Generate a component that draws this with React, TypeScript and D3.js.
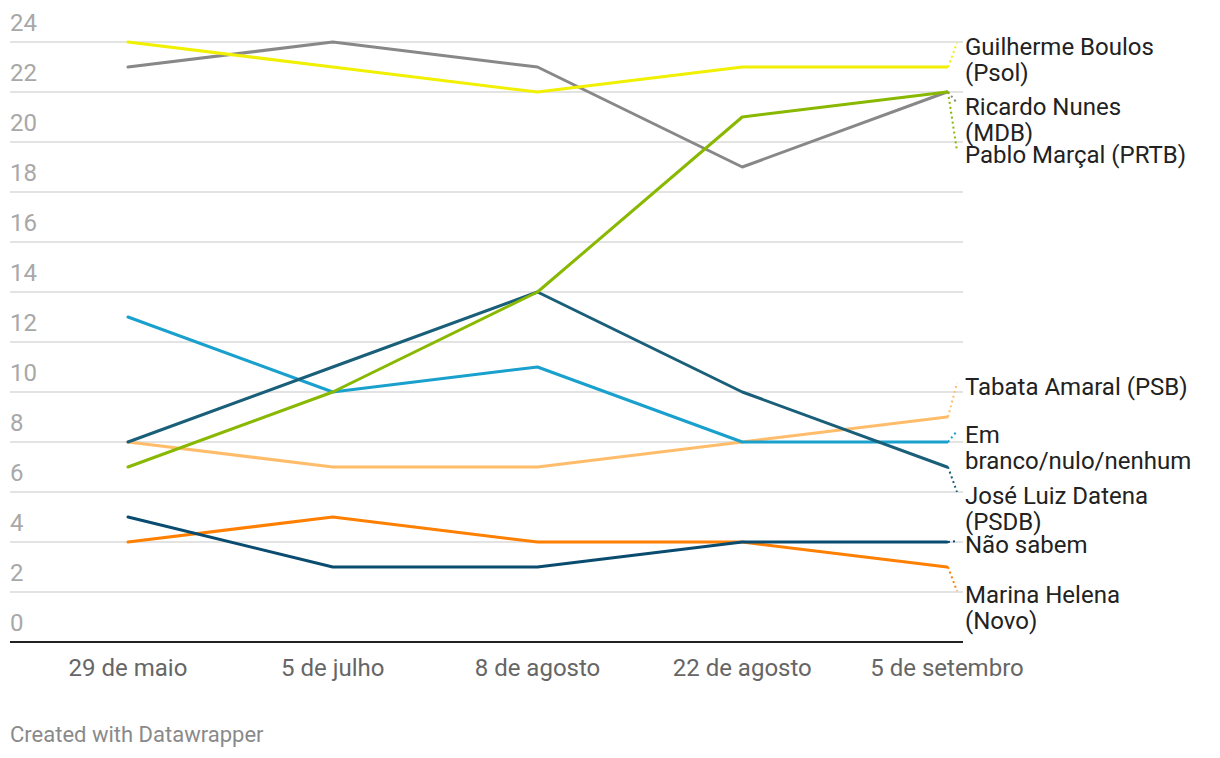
import React from "react";
import * as d3 from "d3";

const dates = ["29 de maio", "5 de julho", "8 de agosto", "22 de agosto", "5 de setembro"];
const yTicks = [0, 2, 4, 6, 8, 10, 12, 14, 16, 18, 20, 22, 24];

const seriesNames = [
  "Tabata Amaral (PSB)",
  "Em branco/nulo/nenhum",
  "Marina Helena (Novo)",
  "Não sabem",
  "José Luiz Datena (PSDB)",
  "Ricardo Nunes (MDB)",
  "Pablo Marçal (PRTB)",
  "Guilherme Boulos (Psol)",
];
const tabata = [8, 7, 7, 8, 9];
const branco = [13, 10, 11, 8, 8];
const marina = [4, 5, 4, 4, 3];
const naoSabem = [5, 3, 3, 4, 4];
const datena = [8, 11, 14, 10, 7];
const nunes = [23, 24, 23, 19, 22];
const marcal = [7, 10, 14, 21, 22];
const boulos = [24, 23, 22, 23, 23];
const seriesValues = [tabata, branco, marina, naoSabem, datena, nunes, marcal, boulos];
const seriesColors = ["#ffbd6b", "#19a0cd", "#ff7f00", "#0a4c70", "#1a5f79", "#888888", "#89b800", "#f0f000"];
const labelLines = [
  ["Tabata Amaral (PSB)"],
  ["Em", "branco/nulo/nenhum"],
  ["Marina Helena", "(Novo)"],
  ["Não sabem"],
  ["José Luiz Datena", "(PSDB)"],
  ["Ricardo Nunes", "(MDB)"],
  ["Pablo Marçal (PRTB)"],
  ["Guilherme Boulos", "(Psol)"],
];
const labelValues = [10.24, 8.32, 1.92, 3.92, 5.88, 21.44, 19.52, 23.84];

export default function App() {
  const W = 1220, H = 758;
  const x = d3.scalePoint<string>().domain(dates).range([128, 947]);
  const y = d3.scaleLinear().domain([0, 24]).range([642, 42]);
  const line = d3.line<number>().x((_, i) => x(dates[i]) as number).y((d) => y(d));
  const font = "Roboto, 'Noto Sans', sans-serif";
  const xEnd = x(dates[dates.length - 1]) as number;
  return (
    <svg width={W} height={H} style={{ position: "absolute", left: 0, top: 0 }} fontFamily={font}>
      {yTicks.map((t) => (
        <g key={t}>
          {t > 0 && <line x1={10} x2={963} y1={y(t)} y2={y(t)} stroke="#e3e3e3" strokeWidth={2} />}
          <text x={10} y={y(t) - 11} fontSize={24} fill="#a8a8a8">{t}</text>
        </g>
      ))}
      <line x1={10} x2={963} y1={y(0)} y2={y(0)} stroke="#222" strokeWidth={2} />
      {dates.map((d) => (
        <text key={d} x={x(d) as number} y={676} fontSize={24} fill="#666" textAnchor="middle">{d}</text>
      ))}
      {seriesValues.map((vals, i) => (
        <path key={seriesNames[i]} d={line(vals) as string} fill="none" stroke={seriesColors[i]} strokeWidth={3} strokeLinejoin="round" strokeLinecap="round" />
      ))}
      {seriesValues.map((vals, i) => {
        const ly = y(labelValues[i]);
        return (
          <g key={"lab" + i}>
            <line x1={xEnd + 1} y1={y(vals[vals.length - 1])} x2={xEnd + 10} y2={ly - 3} stroke={seriesColors[i]} strokeWidth={2} strokeDasharray="2,3" />
            <text x={965} y={ly + 8.5} fontSize={24} fill="#222">
              {labelLines[i].map((l, j) => (
                <tspan key={j} x={965} dy={j === 0 ? 0 : 26}>{l}</tspan>
              ))}
            </text>
          </g>
        );
      })}
      <text x={10} y={742} fontSize={22} fill="#8a8a8a">Created with Datawrapper</text>
    </svg>
  );
}
